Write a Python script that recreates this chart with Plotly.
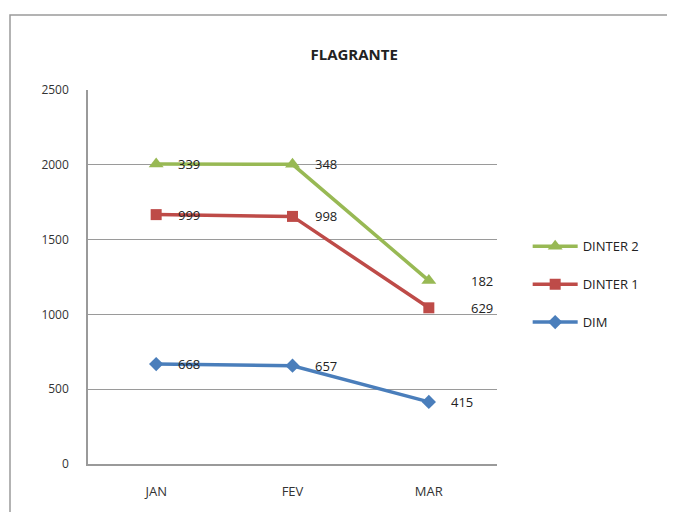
import plotly.graph_objects as go

categories = ["JAN", "FEV", "MAR"]
dim = [668, 657, 415]
dinter1 = [999, 998, 629]
dinter2 = [339, 348, 182]
label_shift_dinter = [20, 20, 40]
label_shift_dim = [20, 20, 20]

# stacked line values
dinter1_stack = [a + b for a, b in zip(dim, dinter1)]
dinter2_stack = [a + b for a, b in zip(dinter1_stack, dinter2)]

font = "Open Sans, Liberation Sans, sans-serif"
fig = go.Figure()

series = [
    ("DINTER 2", dinter2_stack, dinter2, "#98B954", "triangle-up", 13, label_shift_dinter),
    ("DINTER 1", dinter1_stack, dinter1, "#BE4B48", "square", 11, label_shift_dinter),
    ("DIM", dim, dim, "#4A7EBB", "diamond", 11, label_shift_dim),
]

annotations = []
for name, ys, labels, color, sym, size, shifts in series:
    fig.add_trace(go.Scatter(
        x=categories, y=ys, name=name, mode="lines+markers", legendgroup=name,
        line=dict(color=color, width=3.5),
        marker=dict(symbol=sym, size=size, color=color),
    ))
    for c, y, lab, sh in zip(categories, ys, labels, shifts):
        annotations.append(dict(x=c, y=y, text=str(lab), showarrow=False,
                                xanchor="left", xshift=sh, yshift=0,
                                font=dict(family=font, size=13, color="#222")))

# chart border
fig.add_shape(type="rect", xref="paper", yref="paper",
              x0=-0.1907, x1=1.45, y0=-0.2, y1=1.2005,
              line=dict(color="#9a9a9a", width=1.5), layer="below")

fig.update_layout(
    width=667, height=504,
    margin=dict(l=80, r=178, t=82, b=48),
    paper_bgcolor="white", plot_bgcolor="white",
    title=dict(text="<b>FLAGRANTE</b>", x=0.519, xanchor="center", y=0.908, yanchor="middle",
               font=dict(family=font, size=15, color="#222")),
    font=dict(family=font, size=12, color="#333"),
    annotations=annotations,
    showlegend=True,
    legend=dict(x=1.075, y=0.622, xanchor="left", yanchor="top",
                font=dict(family=font, size=13, color="#222"),
                itemwidth=45, tracegroupgap=18, bgcolor="rgba(0,0,0,0)"),
    xaxis=dict(range=[-0.5, 2.5], showgrid=False, showline=True, linecolor="#9a9a9a",
               linewidth=1.5, ticks="", tickfont=dict(size=13, color="#333"), ticklabelstandoff=15,
               zeroline=False),
    yaxis=dict(range=[0, 2500], dtick=500, showgrid=True, gridcolor="#9a9a9a", gridwidth=1,
               showline=True, linecolor="#9a9a9a", linewidth=1.5, ticks="", zeroline=False,
               tickfont=dict(size=12, color="#333"), ticklabelstandoff=15),
)

fig.write_html("out.html")
